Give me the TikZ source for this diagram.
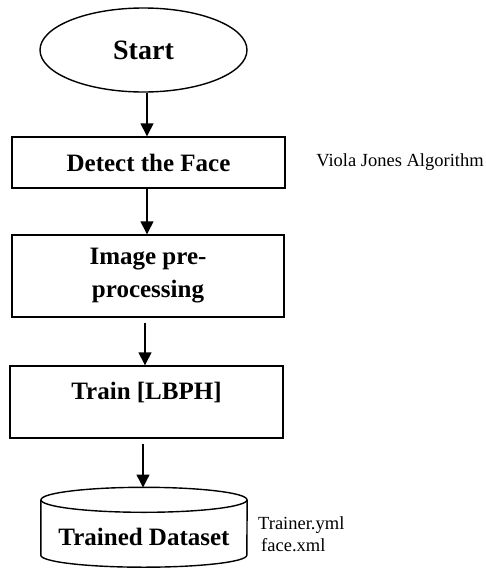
\documentclass[tikz,border=0pt]{standalone}
\usepackage{fontspec}
\setmainfont{Liberation Serif}
\usetikzlibrary{shapes.geometric,arrows.meta}

\tikzset{
  outline/.style={draw=black, line width=1.4pt},
  stepbox/.style={outline, rectangle, inner sep=0pt, align=center,
    font=\fontsize{25}{33}\selectfont\bfseries},
  terminal/.style={outline, ellipse, inner sep=0pt,
    font=\fontsize{28}{33}\selectfont\bfseries},
  caption/.style={inner sep=0pt, font=\fontsize{18.5}{22}\selectfont},
  heading/.style={inner sep=0pt, font=\fontsize{25}{33}\selectfont\bfseries},
  flow/.style={draw=black, line width=1.4pt, -{Triangle[width=13pt,length=13pt]}},
}

\begin{document}
\begin{tikzpicture}[x=1pt, y=-1pt]
  \useasboundingbox[fill=white] (0,0) rectangle (486,568);

  % process chain
  \node[terminal, minimum width=207, minimum height=84] (start) at (143.5,50) {Start};
  \node[stepbox, minimum width=273, minimum height=51] (detect) at (148.5,162.5) {Detect the Face};
  \node[stepbox, minimum width=272, minimum height=82] (prep) at (148,276) {Image pre-\\processing};
  \node[stepbox, minimum width=273, minimum height=72] (train) at (146.5,402) {};
  \node[heading] (traintext) at (146.5,392) {Train [LBPH]};

  % storage cylinder
  \node[inner sep=0pt, minimum width=206, minimum height=55] (data) at (144,527.5) {};
  \coordinate (datatop) at (144,487.5);
  \draw[outline] (data.north west) -- (data.south west)
    arc[start angle=180, end angle=360, x radius=103pt, y radius=12pt]
    -- (data.north east);
  \draw[outline] (data.north) ellipse[x radius=103pt, y radius=12.5pt];
  \node[heading] (datatext) at (144,537) {Trained Dataset};

  % side notes
  \node[caption] (viola) at (400,162) {Viola Jones Algorithm};
  \node[caption, anchor=west] (yml) at (258,525) {Trainer.yml};
  \node[caption, anchor=west] (xml) at (261,545) {face.xml};

  % connectors
  \draw[flow] (start.south -| 147,0) -- (detect.north -| 147,0);
  \draw[flow] (detect.south -| 147,0) -- (prep.north -| 147,0);
  \draw[flow, shorten <=5pt] (prep.south -| 145,0) -- (train.north -| 145,0);
  \draw[flow, shorten <=5pt] (train.south -| 143,0) -- (datatop -| 143,0);
\end{tikzpicture}
\end{document}
